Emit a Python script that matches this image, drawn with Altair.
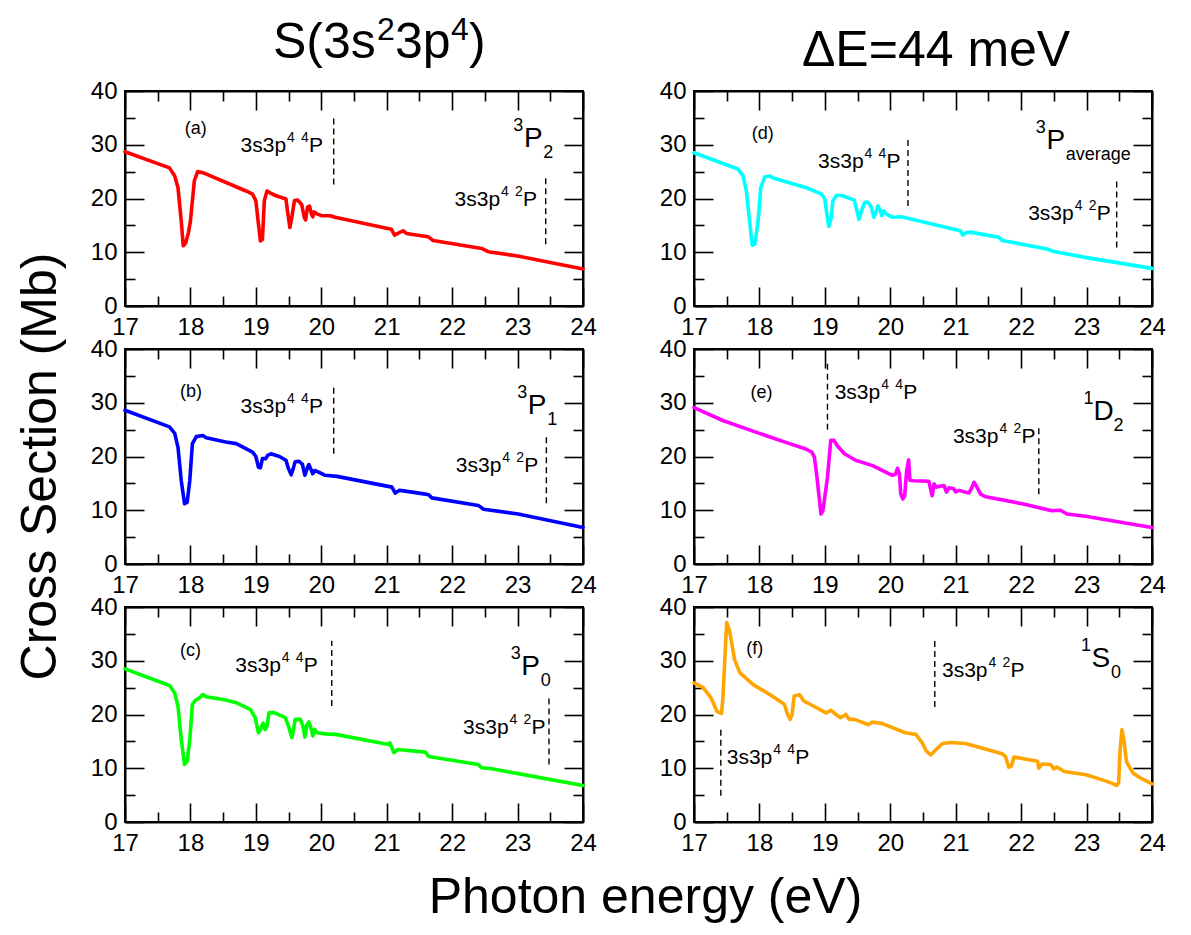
import altair as alt
import pandas as pd

FONT = "Liberation Sans"
W, H = 458, 215

# ---------------- data ----------------
# (a) 3P2  red
Ea = [17.00,17.68,17.76,17.81,17.86,17.89,17.93,17.97,18.00,18.06,18.11,18.19,18.85,18.95,19.00,19.04,19.07,19.10,19.13,19.17,
      19.21,19.31,19.46,19.49,19.52,19.55,19.59,19.64,19.70,19.74,19.76,19.79,19.82,19.85,19.87,19.89,19.94,20.01,20.14,20.21,
      21.07,21.12,21.17,21.25,21.30,21.63,21.71,22.45,22.55,23.00,24.00]
Sa = [28.7,25.7,24.2,22.0,15.8,11.2,11.8,13.7,15.8,23.3,25.0,24.8,21.4,20.8,19.6,15.2,12.1,12.4,19.6,21.4,
      21.1,20.5,19.9,17.1,14.6,16.5,19.6,19.7,18.9,16.5,16.0,18.4,18.6,17.1,16.6,17.5,17.1,16.8,16.8,16.5,
      14.3,13.2,13.5,14.0,13.5,12.9,12.2,10.7,10.1,9.3,6.9]
# (b) 3P1  blue
Eb = [17.00,17.68,17.76,17.81,17.86,17.91,17.95,17.99,18.03,18.09,18.19,18.24,18.54,18.70,18.95,19.00,19.04,19.07,19.10,19.15,
      19.18,19.23,19.36,19.46,19.50,19.54,19.57,19.60,19.66,19.71,19.75,19.79,19.81,19.85,19.87,19.90,19.96,20.06,20.24,21.08,
      21.13,21.19,21.26,21.59,21.64,21.69,22.40,22.48,23.01,24.00]
Sb = [28.6,25.5,24.3,21.7,15.5,11.2,11.5,15.5,22.4,23.7,23.9,23.5,22.7,22.4,20.8,20.0,18.0,17.9,19.6,19.6,
      20.2,20.5,20.0,19.3,17.7,16.6,17.7,19.0,19.1,18.6,16.5,18.0,18.5,17.4,16.8,17.4,17.1,16.5,16.3,14.3,
      13.2,13.7,13.6,13.0,12.9,12.3,10.9,10.2,9.3,6.8]
# (c) 3P0  green
Ec = [17.00,17.68,17.76,17.81,17.86,17.91,17.95,17.99,18.03,18.08,18.14,18.19,18.24,18.54,18.70,18.92,18.99,19.04,19.07,19.11,
      19.14,19.17,19.20,19.27,19.45,19.50,19.55,19.58,19.60,19.68,19.72,19.75,19.78,19.81,19.85,19.87,19.90,19.94,20.06,20.22,
      21.03,21.05,21.08,21.11,21.17,21.59,21.64,22.40,22.45,22.60,23.01,24.00]
Sc = [28.5,25.4,24.0,21.5,15.3,10.7,11.3,15.3,21.9,22.7,23.1,23.7,23.3,22.7,22.2,20.9,19.4,16.6,17.2,18.4,
      17.2,17.8,20.3,20.4,19.4,17.8,15.7,17.5,19.1,19.1,17.8,15.8,18.1,18.6,17.2,16.0,17.2,16.6,16.4,16.3,
      14.4,14.7,13.8,12.9,13.5,13.0,12.2,10.7,10.1,9.9,9.0,6.8]
# (d) 3P average  cyan
Ed = [17.00,17.67,17.75,17.80,17.85,17.89,17.93,17.98,18.02,18.08,18.16,18.21,18.52,18.72,18.95,19.00,19.03,19.06,19.10,19.12,
      19.18,19.27,19.45,19.49,19.52,19.56,19.61,19.66,19.71,19.75,19.78,19.81,19.84,19.87,19.90,19.94,20.04,20.17,21.07,21.11,
      21.17,21.25,21.56,21.66,21.71,22.40,22.48,23.00,24.00]
Sd = [28.5,25.5,24.2,21.4,15.8,11.3,11.5,15.8,22.0,24.0,24.2,23.8,22.7,22.0,20.8,19.9,17.1,14.8,16.5,19.5,
      20.6,20.5,19.7,17.7,16.1,17.7,19.3,19.3,18.4,16.5,17.4,18.6,18.0,16.8,17.7,17.1,16.5,16.6,14.0,13.2,
      13.7,13.7,13.0,12.8,12.2,10.6,10.2,9.0,7.0]
# (e) 1D2  magenta
Ee = [17.00,17.44,18.00,18.46,18.71,18.80,18.84,18.88,18.94,18.97,19.04,19.09,19.14,19.19,19.30,19.47,19.73,19.93,20.03,20.08,
      20.11,20.14,20.16,20.19,20.22,20.25,20.28,20.30,20.36,20.59,20.61,20.64,20.67,20.70,20.82,20.86,20.90,20.97,21.00,21.05,
      21.20,21.24,21.28,21.31,21.38,21.46,22.02,22.47,22.60,22.70,22.98,24.00]
Se = [29.1,26.7,24.3,22.4,21.4,20.8,19.9,16.1,9.3,9.9,16.1,23.0,23.0,22.0,20.5,19.3,18.3,17.1,16.5,16.7,
      17.8,16.8,13.1,12.1,12.7,17.3,19.4,15.6,15.5,15.4,14.3,12.7,14.9,14.3,14.6,13.4,14.2,14.0,13.4,13.7,
      13.2,14.0,15.2,14.6,13.0,12.5,11.2,9.9,10.0,9.3,8.9,6.8]
# (f) 1S0  orange
Ef = [17.00,17.14,17.26,17.35,17.42,17.44,17.50,17.54,17.62,17.70,17.90,18.20,18.38,18.43,18.47,18.50,18.53,18.61,18.68,18.76,
      19.02,19.09,19.17,19.24,19.32,19.37,19.45,19.67,19.72,19.88,20.23,20.39,20.49,20.55,20.62,20.70,20.80,20.92,21.15,21.71,
      21.76,21.81,21.85,21.89,22.25,22.27,22.32,22.45,22.50,22.55,22.66,22.99,23.30,23.41,23.46,23.49,23.51,23.54,23.57,23.61,
      23.71,23.82,24.00]
Sf = [25.9,25.0,23.1,20.6,20.2,22.8,37.1,35.8,30.2,27.8,25.6,23.4,21.9,20.0,19.1,20.0,23.4,23.7,22.5,22.0,
      20.3,20.8,20.0,19.4,20.0,19.1,19.1,18.1,18.6,18.3,16.6,16.3,14.7,13.2,12.5,13.5,14.6,14.8,14.6,12.7,
      12.2,10.2,10.4,12.1,11.3,10.0,10.8,10.7,9.9,10.2,9.4,8.8,7.6,7.1,6.8,7.3,12.9,17.2,15.3,11.2,
      9.1,8.2,7.1]

COLORS = ["#ff0000", "#0000ff", "#00ff00", "#00ffff", "#ff00ff", "#ffa500"]
LETTERS = ["(a)", "(b)", "(c)", "(d)", "(e)", "(f)"]
LETTER_E = [18.08, 18.01, 18.00, 18.05, 18.03, 17.93]
LETTER_S = [32.9, 32.0, 31.8, 32.0, 31.8, 32.1]

# term symbols: superscript, main letter, subscript, position of main letter
TERM_SUP = ["3", "3", "3", "3", "1", "1"]
TERM_MAIN = ["P", "P", "P", "P", "D", "S"]
TERM_SUB = ["2", "1", "0", "average", "2", "0"]
TERM_E = [23.24, 23.30, 23.20, 22.53, 23.26, 23.22]
TERM_S = [29.5, 27.9, 27.4, 29.2, 26.7, 28.8]

# dashed threshold markers: [4P, 2P] per panel -> (energy, y-bottom, y-top)
VL_E = [[20.19, 23.43], [20.19, 23.44], [20.16, 23.48], [20.27, 23.46], [19.04, 22.27], [17.41, 20.68]]
VL_Y1 = [[22.6, 11.5], [20.5, 11.3], [21.6, 10.7], [18.6, 10.9], [25.0, 13.0], [4.9, 21.4]]
VL_Y2 = [[35.0, 24.2], [32.8, 23.7], [33.7, 23.1], [31.0, 23.3], [37.6, 25.5], [17.2, 33.7]]

# threshold labels "3s3p^4 ^4P" / "3s3p^4 ^2P"
LBL_MULT = ["4", "2"]
LBL_E = [[20.02, 23.29], [20.02, 23.31], [19.94, 23.42], [20.15, 23.36], [19.15, 22.21], [17.50, 20.79]]
LBL_S = [[29.8, 19.7], [29.2, 18.3], [29.0, 17.5], [26.7, 17.1], [31.8, 23.6], [11.9, 28.1]]
LBL_ALIGN = [["right", "right"], ["right", "right"], ["right", "right"], ["right", "right"],
             ["left", "right"], ["left", "left"]]

XMAJ = [17, 18, 19, 20, 21, 22, 23, 24]
XMIN = [17.5, 18.5, 19.5, 20.5, 21.5, 22.5, 23.5]
YMAJ = [0, 10, 20, 30, 40]
YMIN = [5, 15, 25, 35]

TITLE_L = ["S(3s", "2", "3p", "4", ")"]
TITLE_R = "ΔE=44 meV"
XTITLE = "Photon energy (eV)"
YTITLE = "Cross Section (Mb)"

XDOM, YDOM = [17.0, 24.0], [0.0, 40.0]
TMAJ, TMIN = 19, 10   # inward tick lengths (px)


def label_axes(xtitle=None, ytitle=None):
    common = dict(ticks=False, tickSize=0, domain=True, domainColor="black", domainWidth=2,
                  grid=False, labelFont=FONT, labelFontSize=24, labelColor="black",
                  labelFlush=False, labelOverlap=False, labelBound=False, format="d")
    if xtitle:
        ax = alt.Axis(orient="bottom", values=XMAJ, labelPadding=9, title=xtitle, titleFont=FONT,
                      titleFontSize=50, titleFontWeight="normal", titleColor="black",
                      titleX=520, titleY=90, titleBaseline="alphabetic", titleAlign="center", **common)
    else:
        ax = alt.Axis(orient="bottom", values=XMAJ, labelPadding=9, title=None, **common)
    if ytitle:
        ay = alt.Axis(orient="left", values=YMAJ, labelPadding=8, title=ytitle, titleFont=FONT,
                      titleFontSize=50, titleFontWeight="normal", titleColor="black",
                      titleX=-70, titleY=117, titleAngle=270, titleBaseline="alphabetic",
                      titleAlign="center", **common)
    else:
        ay = alt.Axis(orient="left", values=YMAJ, labelPadding=8, title=None, **common)
    return ax, ay


def frame_axis(orient):
    return alt.Axis(orient=orient, labels=False, ticks=False, domain=True, domainColor="black",
                    domainWidth=2, grid=False, title=None)


def tick_axis(orient, values, size):
    # inward ticks: axis pulled inside the plot by its own tick length
    return alt.Axis(orient=orient, values=values, labels=False, ticks=True, tickSize=size,
                    tickColor="black", tickWidth=1.6, offset=-size, domain=False, grid=False,
                    title=None)


def panel(i, E, S, xtitle=None, ytitle=None, title=None):
    sc_x = alt.Scale(domain=XDOM, nice=False, zero=False)
    sc_y = alt.Scale(domain=YDOM, nice=False, zero=False)
    X = lambda ax=None: alt.X("E:Q", scale=sc_x, axis=ax)
    Y = lambda ay=None: alt.Y("S:Q", scale=sc_y, axis=ay)

    line_df = pd.DataFrame({"E": E, "S": S})
    ax, ay = label_axes(xtitle, ytitle)

    layers = []
    layers.append(alt.Chart(line_df).mark_line(
        color=COLORS[i], strokeWidth=3.6, strokeJoin="round", strokeCap="round").encode(
        x=X(ax), y=Y(ay)))

    # frame (top/right) and inward ticks on all four sides, carried by axes
    axis_pairs = [
        (frame_axis("top"), frame_axis("right")),
        (tick_axis("bottom", XMAJ, TMAJ), tick_axis("left", YMAJ, TMAJ)),
        (tick_axis("bottom", XMIN, TMIN), tick_axis("left", YMIN, TMIN)),
        (tick_axis("top", XMAJ, TMAJ), tick_axis("right", YMAJ, TMAJ)),
        (tick_axis("top", XMIN, TMIN), tick_axis("right", YMIN, TMIN)),
    ]
    for bx, by in axis_pairs:
        layers.append(alt.Chart(line_df).mark_line(opacity=0).encode(x=X(bx), y=Y(by)))

    # dashed threshold markers
    layers.append(alt.Chart(pd.DataFrame({"E": VL_E[i], "S": VL_Y1[i], "S2": VL_Y2[i]})).mark_rule(
        color="black", strokeWidth=1.4, strokeDash=[6, 4]).encode(x=X(), y=Y(), y2="S2:Q"))

    # threshold labels, composed of text pieces: "3s3p" ^4 ^m "P"
    lab = pd.DataFrame({"E": LBL_E[i], "S": LBL_S[i], "m": LBL_MULT,
                        "a": LBL_ALIGN[i], "base": ["3s3p", "3s3p"], "n": ["4", "4"], "P": ["P", "P"]})
    total = 82
    pieces = [("base", 0, 21, 0), ("n", 46.5, 14, -8), ("m", 60.5, 14, -8), ("P", 68.5, 21, 0)]
    for al in ("left", "right"):
        sub = lab[lab["a"] == al]
        if len(sub) == 0:
            continue
        shift = 0 if al == "left" else -total
        for field, off, fs, dy in pieces:
            layers.append(alt.Chart(sub).mark_text(
                align="left", baseline="middle", font=FONT, fontSize=fs, color="black",
                dx=off + shift, dy=dy).encode(x=X(), y=Y(), text=f"{field}:N"))

    # panel letter
    layers.append(alt.Chart(pd.DataFrame({"E": [LETTER_E[i]], "S": [LETTER_S[i]], "t": [LETTERS[i]]})).mark_text(
        align="center", baseline="middle", font=FONT, fontSize=18, color="black").encode(
        x=X(), y=Y(), text="t:N"))

    # term symbol
    term = pd.DataFrame({"E": [TERM_E[i]], "S": [TERM_S[i]], "m": [TERM_MAIN[i]],
                         "p": [TERM_SUP[i]], "b": [TERM_SUB[i]]})
    layers.append(alt.Chart(term).mark_text(
        align="center", baseline="alphabetic", font=FONT, fontSize=28, color="black").encode(
        x=X(), y=Y(), text="m:N"))
    layers.append(alt.Chart(term).mark_text(
        align="right", baseline="alphabetic", font=FONT, fontSize=18, color="black", dx=-10, dy=-16).encode(
        x=X(), y=Y(), text="p:N"))
    layers.append(alt.Chart(term).mark_text(
        align="left", baseline="alphabetic", font=FONT, fontSize=18, color="black", dx=10, dy=11).encode(
        x=X(), y=Y(), text="b:N"))

    # column titles (drawn above the top panels)
    if title == "left":
        tl = pd.DataFrame({"E": [XDOM[0]], "S": [YDOM[1]], "t0": [TITLE_L[0]], "t1": [TITLE_L[1]],
                           "t2": [TITLE_L[2]], "t3": [TITLE_L[3]], "t4": [TITLE_L[4]]})
        for field, off, fs, dy in (("t0", 148, 50, -33), ("t1", 252, 32, -51), ("t2", 270, 50, -33),
                                   ("t3", 326, 32, -51), ("t4", 344, 50, -33)):
            layers.append(alt.Chart(tl).mark_text(
                align="left", baseline="alphabetic", font=FONT, fontSize=fs, color="black",
                dx=off, dy=dy).encode(x=X(), y=Y(), text=f"{field}:N"))
    elif title == "right":
        tr = pd.DataFrame({"E": [20.70], "S": [YDOM[1]], "t": [TITLE_R]})
        layers.append(alt.Chart(tr).mark_text(
            align="center", baseline="alphabetic", font=FONT, fontSize=50, color="black",
            dy=-25).encode(x=X(), y=Y(), text="t:N"))

    return alt.layer(*layers).resolve_axis(x="independent", y="independent").properties(
        width=W, height=H)


pa = panel(0, Ea, Sa, title="left")
pb = panel(1, Eb, Sb, ytitle=YTITLE)
pc = panel(2, Ec, Sc, xtitle=XTITLE)
pd_ = panel(3, Ed, Sd, title="right")
pe = panel(4, Ee, Se)
pf = panel(5, Ef, Sf)

chart = alt.concat(pa, pd_, pb, pe, pc, pf, columns=2,
                   spacing={"row": 43, "column": 111}, bounds="flush").configure_view(
    stroke="black", strokeWidth=2).properties(
    background="white", padding={"left": 5, "top": 5, "right": 5, "bottom": 5})

chart.save("out.html", embed_options={"renderer": "svg", "actions": False})
